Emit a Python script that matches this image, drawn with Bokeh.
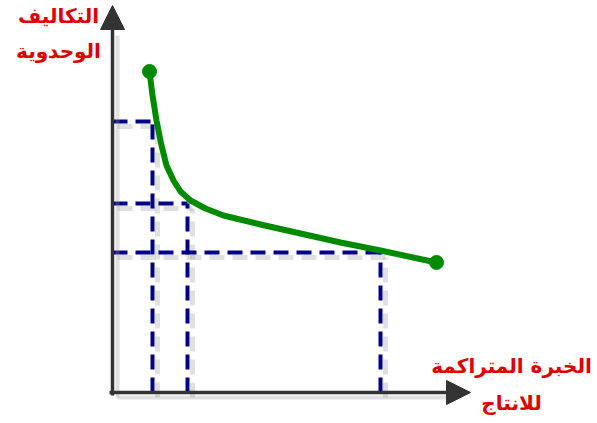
from bokeh.plotting import figure
from bokeh.models import Range1d, Arrow, NormalHead
from bokeh.core.properties import value
from bokeh.embed import file_html
from bokeh.resources import INLINE

# Conceptual learning curve (abstract units, origin at axes corner)
experience = [37, 40, 44, 49, 54, 61, 68, 78, 93, 111, 148, 188, 228, 268, 324]
unit_cost = [321, 297, 272, 247, 227, 212, 201, 192, 184, 177, 168, 159, 150, 142, 130]

# reference levels (dashed projections)
ref_x = [40, 75, 268]
ref_y = [271, 189, 140]

x_axis_end = 358
y_axis_end = 387

y_label = ["التكاليف", "الوحدوية"]
x_label = ["الخبرة المتراكمة", "للانتاج"]

p = figure(width=597, height=423, output_backend="svg", toolbar_location=None,
           x_range=Range1d(-112, 485), y_range=Range1d(-31, 392),
           min_border=0, outline_line_color=None)
p.axis.visible = False
p.grid.visible = False
p.background_fill_color = "white"

sh = 5  # shadow offset
navy = "#00008b"
for xv, yv in zip(ref_x, ref_y):
    p.line([0 + sh, xv + sh], [yv - sh, yv - sh], line_color="#999999", line_alpha=0.3,
           line_width=5, line_dash="15 8")
    p.line([xv + sh, xv + sh], [0 - sh, yv - sh], line_color="#999999", line_alpha=0.3,
           line_width=5, line_dash="15 8")
for xv, yv in zip(ref_x, ref_y):
    p.line([0, xv], [yv, yv], line_color=navy, line_width=4, line_dash="15 8")
    p.line([xv, xv], [0, yv], line_color=navy, line_width=4, line_dash="15 8")

# axes shadows
p.line([sh, sh], [-sh, y_axis_end - 25 - sh], line_color="#999999", line_alpha=0.3, line_width=4)
p.line([0 + sh, x_axis_end - 25 + sh], [-sh, -sh], line_color="#999999", line_alpha=0.3, line_width=4)

# axes as arrows
p.add_layout(Arrow(end=NormalHead(size=24, fill_color="#333333", line_color="#333333"),
                   x_start=0, y_start=-3, x_end=0, y_end=y_axis_end,
                   line_color="#333333", line_width=3.5))
p.add_layout(Arrow(end=NormalHead(size=24, fill_color="#333333", line_color="#333333"),
                   x_start=-3, y_start=0, x_end=x_axis_end, y_end=0,
                   line_color="#333333", line_width=3.5))

green = "#008a00"
p.line(experience, unit_cost, line_color=green, line_width=6, line_cap="round", line_join="round")
p.scatter([experience[0], experience[-1]], [unit_cost[0], unit_cost[-1]], size=14,
          fill_color=green, line_color=green)

red = "#e00000"
p.text(x=[-54, -54], y=[377, 342], text=y_label, text_color=red,
       text_font=value("DejaVu Sans"), text_font_size="20px", text_font_style="bold",
       text_align="center", text_baseline="middle")
p.text(x=[399, 399], y=[27, -10], text=x_label, text_color=red,
       text_font=value("DejaVu Sans"), text_font_size="20px", text_font_style="bold",
       text_align="center", text_baseline="middle")

open("out.html", "w").write(file_html(p, INLINE))
